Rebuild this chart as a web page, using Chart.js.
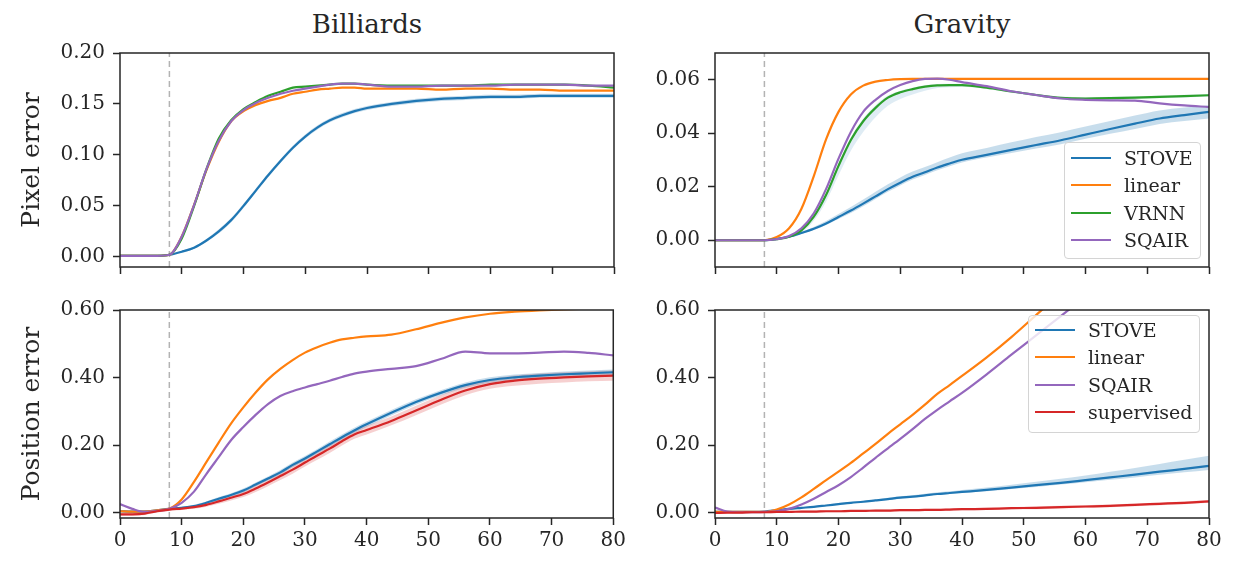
<!DOCTYPE html>
<html>
<head>
<meta charset="utf-8">
<script src="https://cdn.jsdelivr.net/npm/chart.js@4.4.1/dist/chart.umd.min.js"></script>
<style>
  body { margin: 0; background: #fff; }
  #fig { position: relative; width: 1236px; height: 561px; overflow: hidden; font-family: 'DejaVu Serif', serif; color: #262626; }
  canvas { position: absolute; }
  .title { position: absolute; top: 8px; height: 32px; line-height: 32px; font-size: 26px; text-align: center; }
  .legend { position: absolute; background: rgba(255,255,255,0.8); border: 1px solid #d4d4d4; border-radius: 4px; font-size: 19px; }
  .legend .row { position: absolute; left: 0; height: 27px; line-height: 27px; white-space: nowrap; }
  .legend .key { position: absolute; left: 6px; top: 12px; width: 40px; height: 0; border-top: 2.5px solid; }
  .legend .txt { position: absolute; left: 59px; }
</style>
</head>
<body>
<div id="fig">
  <div class="title" style="left:120px;width:494px">Billiards</div>
  <div class="title" style="left:715px;width:494px">Gravity</div>
  <canvas id="tl" width="630" height="290" style="left:0;top:0"></canvas>
  <canvas id="tr" width="606" height="290" style="left:630px;top:0"></canvas>
  <canvas id="bl" width="630" height="271" style="left:0;top:290px"></canvas>
  <canvas id="br" width="606" height="271" style="left:630px;top:290px"></canvas>
  <div class="legend" id="leg-tr" style="left:1064px;top:142px;width:135px;height:115px"></div>
  <div class="legend" id="leg-br" style="left:1028px;top:315px;width:170px;height:116px"></div>
</div>
<script>
// prediction step (x) shared by all panels
const steps = [0,2,4,6,8,10,12,14,16,18,20,22,24,26,28,30,32,34,36,38,40,44,48,52,56,60,64,68,72,76,80];
const xTicks = [0,10,20,30,40,50,60,70,80];
const forecastStart = 8;

const billiardsPixelTicks = [0, 0.05, 0.1, 0.15, 0.2];
const gravityPixelTicks = [0, 0.02, 0.04, 0.06];
const positionTicks = [0, 0.2, 0.4, 0.6];

// Billiards - pixel error
const bpStove  = [0.001,0.001,0.001,0.001,0.002,0.005,0.009,0.016,0.025,0.036,0.05,0.065,0.08,0.094,0.107,0.118,0.127,0.134,0.139,0.143,0.146,0.15,0.153,0.155,0.156,0.157,0.157,0.158,0.158,0.158,0.158];
const bpLinear = [0.001,0.001,0.001,0.001,0.002,0.02,0.051,0.085,0.113,0.133,0.143,0.149,0.153,0.156,0.16,0.162,0.164,0.165,0.166,0.166,0.165,0.165,0.165,0.164,0.165,0.165,0.164,0.164,0.163,0.163,0.163];
const bpVrnn   = [0.001,0.001,0.001,0.001,0.002,0.018,0.05,0.086,0.116,0.134,0.145,0.152,0.158,0.162,0.166,0.167,0.168,0.169,0.17,0.17,0.169,0.168,0.168,0.168,0.168,0.169,0.169,0.169,0.169,0.168,0.166];
const bpSqair  = [0.001,0.001,0.001,0.001,0.002,0.02,0.051,0.086,0.114,0.133,0.144,0.151,0.156,0.16,0.163,0.165,0.167,0.169,0.17,0.17,0.169,0.167,0.167,0.168,0.168,0.168,0.169,0.169,0.169,0.168,0.168];
const bpStoveSd = [0,0,0,0,0,0.001,0.001,0.0015,0.002,0.002,0.002,0.002,0.002,0.002,0.002,0.002,0.002,0.002,0.002,0.002,0.002,0.002,0.002,0.002,0.002,0.002,0.002,0.002,0.002,0.002,0.002];

// Gravity - pixel error
const gpStove  = [0,0,0,0,0,0.0005,0.0013,0.0027,0.0043,0.0063,0.0087,0.0111,0.0137,0.0164,0.0191,0.0215,0.0237,0.0254,0.0272,0.0287,0.0301,0.0319,0.0338,0.0356,0.0374,0.0395,0.0416,0.0436,0.0455,0.0468,0.048];
const gpLinear = [0,0,0,0,0,0.0012,0.0045,0.0118,0.024,0.0378,0.048,0.0545,0.0578,0.0593,0.0599,0.0602,0.0603,0.0603,0.0603,0.0603,0.0603,0.0603,0.0603,0.0603,0.0603,0.0603,0.0603,0.0603,0.0603,0.0603,0.0603];
const gpVrnn   = [0,0,0,0,0,0.0004,0.0013,0.0037,0.0088,0.017,0.0278,0.0375,0.0445,0.0495,0.0533,0.0553,0.0565,0.0574,0.0579,0.058,0.058,0.057,0.0556,0.0543,0.0532,0.053,0.0531,0.0533,0.0536,0.0539,0.0542];
const gpSqair  = [0,0,0,0,0,0.0004,0.0016,0.0045,0.0101,0.0192,0.0305,0.0405,0.048,0.0525,0.0558,0.058,0.0595,0.0603,0.0604,0.06,0.0591,0.0576,0.0557,0.0543,0.053,0.0525,0.0523,0.0522,0.0512,0.0504,0.0498];
const gpStoveLo = [0,0,0,0,0,0.0002,0.0003,0.0004,0.0005,0.0006,0.0008,0.0009,0.001,0.001,0.001,0.001,0.001,0.001,0.001,0.001,0.001,0.001,0.0012,0.0013,0.0015,0.0016,0.0018,0.002,0.002,0.0022,0.0025];
const gpStoveHi = [0,0,0,0,0,0.0002,0.0003,0.0005,0.0007,0.0009,0.0011,0.0013,0.0015,0.0017,0.0018,0.002,0.002,0.002,0.002,0.0022,0.0024,0.0026,0.0028,0.003,0.003,0.003,0.003,0.003,0.003,0.0028,0.0025];
const gpVrnnLo  = [0,0,0,0,0,0,0.0003,0.0008,0.0015,0.0025,0.0035,0.004,0.004,0.0035,0.003,0.0025,0.002,0.0015,0.001,0.0008,0.0006,0.0005,0.0005,0.0005,0.0005,0.0005,0.0005,0.0005,0.0005,0.0005,0.0005];
const gpVrnnHi  = [0,0,0,0,0,0,0.0002,0.0004,0.0006,0.0008,0.001,0.001,0.001,0.001,0.0008,0.0006,0.0005,0.0005,0.0005,0.0005,0.0005,0.0005,0.0005,0.0005,0.0005,0.0005,0.0005,0.0005,0.0005,0.0005,0.0005];

// Billiards - position error
const bposStove  = [0.005,0.004,0.004,0.008,0.012,0.015,0.02,0.03,0.042,0.053,0.066,0.084,0.102,0.12,0.142,0.161,0.182,0.203,0.224,0.244,0.262,0.296,0.328,0.355,0.378,0.393,0.401,0.406,0.41,0.413,0.416];
const bposLinear = [0.005,0.004,0.004,0.008,0.013,0.04,0.092,0.15,0.208,0.264,0.312,0.356,0.395,0.426,0.452,0.474,0.49,0.503,0.513,0.518,0.522,0.527,0.543,0.562,0.578,0.589,0.595,0.599,0.602,0.604,0.605];
const bposSqair  = [0.026,0.012,0.003,0.006,0.012,0.03,0.063,0.115,0.165,0.215,0.254,0.29,0.322,0.346,0.36,0.371,0.381,0.391,0.402,0.412,0.418,0.426,0.434,0.455,0.477,0.472,0.472,0.474,0.477,0.473,0.466];
const bposSup    = [-0.004,-0.004,-0.002,0.005,0.01,0.013,0.017,0.024,0.034,0.045,0.056,0.072,0.09,0.109,0.128,0.149,0.17,0.19,0.212,0.232,0.245,0.272,0.303,0.334,0.362,0.381,0.391,0.397,0.401,0.404,0.406];
const bposStoveSd = [0.003,0.003,0.003,0.003,0.003,0.003,0.004,0.004,0.005,0.005,0.006,0.006,0.006,0.007,0.007,0.007,0.007,0.008,0.008,0.008,0.008,0.008,0.008,0.008,0.008,0.008,0.008,0.008,0.008,0.008,0.008];
const bposSupSd   = [0.004,0.004,0.004,0.004,0.004,0.004,0.005,0.006,0.007,0.008,0.009,0.01,0.011,0.012,0.012,0.012,0.013,0.013,0.013,0.013,0.013,0.013,0.014,0.014,0.014,0.014,0.015,0.015,0.015,0.015,0.015];

// Gravity - position error
const gposStove  = [0.003,0.003,0.003,0.003,0.004,0.008,0.012,0.015,0.018,0.022,0.026,0.03,0.033,0.037,0.041,0.045,0.048,0.052,0.056,0.059,0.062,0.068,0.075,0.082,0.089,0.097,0.105,0.113,0.122,0.13,0.139];
const gposLinear = [0.003,0.003,0.003,0.003,0.003,0.01,0.025,0.046,0.071,0.097,0.122,0.148,0.176,0.204,0.234,0.262,0.29,0.32,0.352,0.378,0.405,0.46,0.52,0.585,0.65,0.715,0.78,0.845,0.91,0.975,1.04];
const gposSqair  = [0.016,0.004,0.002,0.002,0.003,0.005,0.012,0.025,0.042,0.062,0.082,0.106,0.134,0.163,0.191,0.219,0.248,0.278,0.305,0.33,0.355,0.41,0.468,0.525,0.582,0.64,0.7,0.76,0.82,0.88,0.94];
const gposSup    = [0,0.001,0.001,0.002,0.002,0.003,0.003,0.004,0.004,0.005,0.005,0.006,0.006,0.007,0.007,0.008,0.008,0.009,0.009,0.01,0.011,0.012,0.014,0.015,0.017,0.019,0.021,0.024,0.027,0.03,0.034];
const gposStoveLo = [0.001,0.001,0.001,0.001,0.001,0.001,0.002,0.002,0.002,0.002,0.002,0.002,0.002,0.002,0.003,0.003,0.003,0.003,0.003,0.003,0.003,0.004,0.004,0.005,0.005,0.006,0.007,0.008,0.009,0.01,0.012];
const gposStoveHi = [0.001,0.001,0.001,0.001,0.001,0.001,0.002,0.002,0.002,0.002,0.003,0.003,0.003,0.003,0.004,0.004,0.004,0.005,0.005,0.005,0.006,0.007,0.008,0.01,0.012,0.014,0.017,0.02,0.023,0.027,0.03];
const gposSupSd   = [0.003,0.003,0.003,0.003,0.003,0.003,0.003,0.003,0.003,0.003,0.003,0.003,0.003,0.003,0.003,0.003,0.003,0.003,0.003,0.003,0.003,0.003,0.003,0.004,0.004,0.004,0.004,0.004,0.004,0.004,0.004];

const colors = {
  STOVE: '#1f77b4',
  linear: '#ff7f0e',
  VRNN: '#2ca02c',
  SQAIR: '#9467bd',
  supervised: '#d62728'
};
const FONT = "'DejaVu Serif', serif";
const ink = '#262626';

function pts(values) {
  return steps.map((x, i) => ({ x: x, y: values[i] }));
}

function line(label, values, order) {
  return {
    label: label,
    data: pts(values),
    borderColor: colors[label],
    borderWidth: 2.2,
    pointRadius: 0,
    fill: false,
    cubicInterpolationMode: 'monotone',
    order: order
  };
}

function band(values, lo, hi, color) {
  const common = { borderWidth: 0, pointRadius: 0, cubicInterpolationMode: 'monotone', order: 10 };
  return [
    Object.assign({ data: pts(values.map((v, i) => v - lo[i])), fill: false }, common),
    Object.assign({ data: pts(values.map((v, i) => v + hi[i])), fill: '-1', backgroundColor: color }, common)
  ];
}

function startLine(yMin, yMax) {
  return {
    data: [{ x: forecastStart, y: yMin }, { x: forecastStart, y: yMax }],
    borderColor: '#b3b3b3',
    borderWidth: 1.5,
    borderDash: [6, 4],
    pointRadius: 0,
    tension: 0,
    order: 20
  };
}

// full box round the plot, like matplotlib spines
const frame = {
  id: 'frame',
  afterDatasetsDraw(chart) {
    const { ctx, chartArea: a } = chart;
    ctx.save();
    ctx.strokeStyle = ink;
    ctx.lineWidth = 1.5;
    ctx.strokeRect(a.left, a.top, a.right - a.left, a.bottom - a.top);
    ctx.restore();
  }
};

function fmt(v) {
  return Math.abs(v) < 1e-9 ? '0.00' : v.toFixed(2);
}

function makeChart(id, p) {
  const tickGrid = { drawOnChartArea: false, drawTicks: true, tickLength: 7, tickWidth: 1.5, tickColor: ink };
  return new Chart(document.getElementById(id), {
    type: 'line',
    data: { datasets: p.datasets },
    options: {
      responsive: false,
      animation: false,
      events: [],
      layout: { padding: { top: p.padTop, right: p.padRight, left: 0, bottom: 0 } },
      plugins: { legend: { display: false }, tooltip: { enabled: false } },
      scales: {
        x: {
          type: 'linear', min: 0, max: 80,
          afterBuildTicks: s => { s.ticks = xTicks.map(v => ({ value: v })); },
          afterFit: s => { s.height = p.xHeight; },
          ticks: { display: p.xLabels, autoSkip: false, maxRotation: 0, padding: 4, color: ink, font: { family: FONT, size: 20 } },
          grid: tickGrid,
          border: { display: false }
        },
        y: {
          type: 'linear', min: p.yMin, max: p.yMax,
          afterBuildTicks: s => { s.ticks = p.yTicks.map(v => ({ value: v })); },
          afterFit: s => { s.width = p.yWidth; },
          ticks: { padding: 8, color: ink, font: { family: FONT, size: 20 }, callback: fmt },
          grid: tickGrid,
          border: { display: false },
          title: {
            display: !!p.yTitle, text: p.yTitle || '', color: ink,
            font: { family: FONT, size: 25 }, padding: { top: 17, bottom: 0 }
          }
        }
      }
    },
    plugins: [frame]
  });
}

makeChart('tl', {
  yMin: -0.01, yMax: 0.2, yTicks: billiardsPixelTicks, yTitle: 'Pixel error',
  yWidth: 120, padTop: 53, padRight: 16, xHeight: 23, xLabels: false,
  datasets: [
    line('SQAIR', bpSqair, 1),
    line('VRNN', bpVrnn, 2),
    line('linear', bpLinear, 3),
    line('STOVE', bpStove, 4),
    ...band(bpStove, bpStoveSd, bpStoveSd, 'rgba(31,119,180,0.25)'),
    startLine(-0.01, 0.2)
  ]
});

makeChart('tr', {
  yMin: -0.01, yMax: 0.07, yTicks: gravityPixelTicks,
  yWidth: 85, padTop: 53, padRight: 27, xHeight: 23, xLabels: false,
  datasets: [
    line('SQAIR', gpSqair, 1),
    line('VRNN', gpVrnn, 2),
    line('linear', gpLinear, 3),
    line('STOVE', gpStove, 4),
    ...band(gpStove, gpStoveLo, gpStoveHi, 'rgba(31,119,180,0.25)'),
    ...band(gpVrnn, gpVrnnLo, gpVrnnHi, 'rgba(31,119,180,0.14)'),
    startLine(-0.01, 0.07)
  ]
});

makeChart('bl', {
  yMin: -0.015, yMax: 0.6, yTicks: positionTicks, yTitle: 'Position error',
  yWidth: 120, padTop: 15, padRight: 16, xHeight: 43, xLabels: true,
  datasets: [
    line('supervised', bposSup, 1),
    line('SQAIR', bposSqair, 2),
    line('linear', bposLinear, 3),
    line('STOVE', bposStove, 4),
    ...band(bposStove, bposStoveSd, bposStoveSd, 'rgba(31,119,180,0.25)'),
    ...band(bposSup, bposSupSd, bposSupSd, 'rgba(214,39,40,0.22)'),
    startLine(-0.015, 0.6)
  ]
});

makeChart('br', {
  yMin: -0.015, yMax: 0.6, yTicks: positionTicks,
  yWidth: 85, padTop: 15, padRight: 27, xHeight: 43, xLabels: true,
  datasets: [
    line('supervised', gposSup, 1),
    line('SQAIR', gposSqair, 2),
    line('linear', gposLinear, 3),
    line('STOVE', gposStove, 4),
    ...band(gposStove, gposStoveLo, gposStoveHi, 'rgba(31,119,180,0.25)'),
    ...band(gposSup, gposSupSd, gposSupSd, 'rgba(214,39,40,0.22)'),
    startLine(-0.015, 0.6)
  ]
});

function legend(id, labels, firstTop) {
  const box = document.getElementById(id);
  labels.forEach((name, i) => {
    const row = document.createElement('div');
    row.className = 'row';
    row.style.top = (firstTop + i * 27.3) + 'px';
    row.style.width = '100%';
    row.innerHTML = '<div class="key" style="border-color:' + colors[name] + '"></div><span class="txt">' + name + '</span>';
    box.appendChild(row);
  });
}
legend('leg-tr', ['STOVE', 'linear', 'VRNN', 'SQAIR'], 2);
legend('leg-br', ['STOVE', 'linear', 'SQAIR', 'supervised'], 1);
</script>
</body>
</html>
